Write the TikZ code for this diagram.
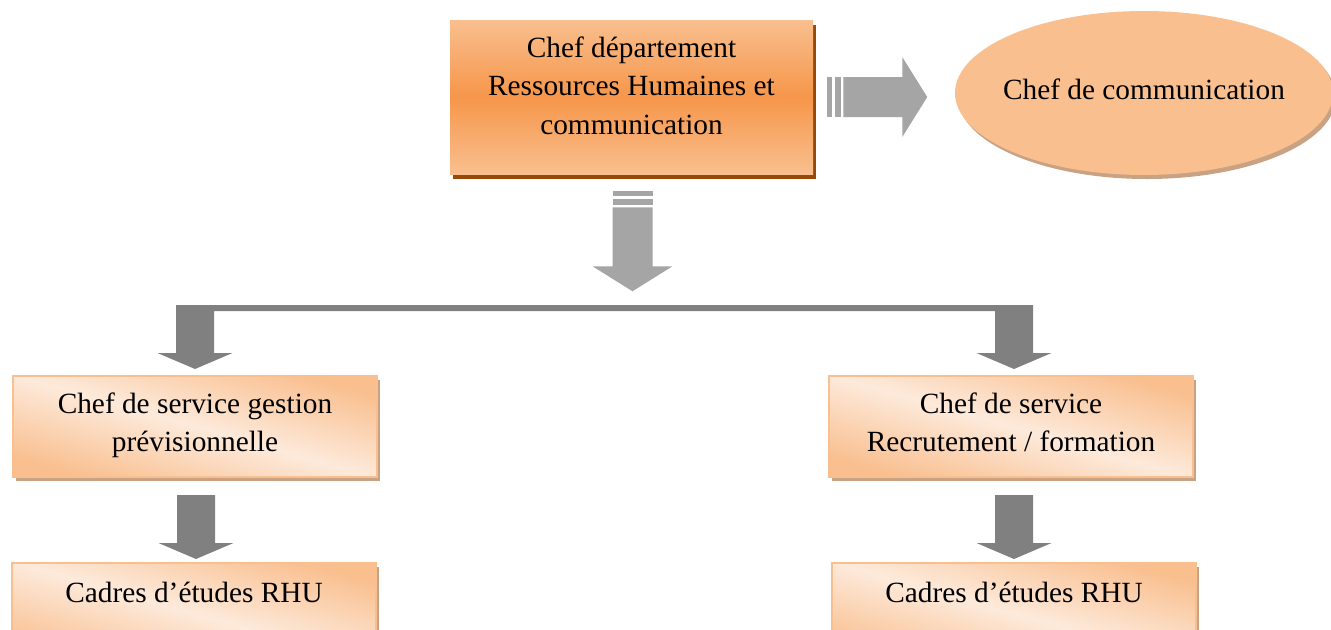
\documentclass[tikz,border=0pt]{standalone}
\usepackage{fontspec}
\setmainfont{Liberation Serif}
\usetikzlibrary{shadows,calc,shapes.geometric}
\definecolor{orclair}{HTML}{F9BF8F}
\definecolor{orfonce}{HTML}{F6964A}
\definecolor{orpale}{HTML}{FDEADB}
\definecolor{brun}{HTML}{984807}
\definecolor{ombre}{HTML}{C8A283}
\definecolor{gris}{HTML}{A5A5A5}
\definecolor{grisf}{HTML}{808080}
\begin{document}
\begin{tikzpicture}[
        x=0.75pt, y=-0.75pt,
        font=\fontsize{22}{29}\selectfont
    ]
    \tikzset{
        chefbox/.style = {rectangle, inner sep=0pt, align=flush center,
            minimum width=272.25pt, minimum height=115.5pt,
            text width=272.25pt, text height=27.75pt, text depth=87.75pt,
            top color=orclair, bottom color=orclair, middle color=orfonce,
            drop shadow={shadow xshift=2.25pt, shadow yshift=-3.75pt, fill=brun, opacity=1}},
        servbox/.style = {rectangle, inner sep=0pt, align=flush center,
            draw=orclair, line width=1.5pt,
            minimum width=273pt, minimum height=75.75pt,
            text width=273pt, text height=27.75pt, text depth=48pt,
            shading=axis, top color=orclair, bottom color=orclair, middle color=orpale,
            shading angle=-16,
            drop shadow={shadow xshift=2.5pt, shadow yshift=-3pt, fill=ombre, opacity=1}},
        cadrebox/.style = {servbox, text height=29.25pt, text depth=46.5pt},
        commnode/.style = {ellipse, inner sep=0pt, fill=orclair,
            minimum width=283.5pt, minimum height=123pt,
            text height=14.5pt, text depth=5.5pt,
            drop shadow={shadow xshift=2.25pt, shadow yshift=-3pt, fill=ombre, opacity=1}},
        grisarrow/.style = {fill=gris, draw=none},
        fleche/.style = {fill=grisf, draw=none},
        stripearrow/.pic = {
            \fill[grisarrow] (0,-20) rectangle (5,20);
            \fill[grisarrow] (8,-20) rectangle (14,20);
            \fill[grisarrow] (16,-20) -- (75,-20) -- (75,-40) -- (100,0)
                -- (75,40) -- (75,20) -- (16,20) -- cycle;
        },
        dnarrow/.pic = {
            \fill[fleche] (-19,0) -- (19,0) -- (19,48) -- (37.5,48) -- (0,64)
                -- (-37.5,48) -- (-19,48) -- cycle;
        },
    }
    \useasboundingbox (0,0) rectangle (1331,629);
    \clip (0,0) rectangle (1331,629);
    % nodes
    \node[chefbox] at (631.5,97) (chef) {Chef département\\Ressources Humaines et\\communication};
    \node[commnode] at (1144,93) (comm) {\makebox[0pt]{Chef de communication}};
    \node[servbox] at (195,426.5) (gp) {Chef de service gestion\\prévisionnelle};
    \node[servbox] at (1011,426.5) (rf) {Chef de service\\Recrutement / formation};
    \node[cadrebox] at (194,613.5) (cg) {Cadres d’études RHU};
    \node[cadrebox] at (1014,613.5) (cr) {Cadres d’études RHU};
    %
    \pic at ($(chef.east)+(14,0)$) {stripearrow};
    \pic[rotate=-90] at ($(chef.south)+(1,17)$) {stripearrow};
    %
    \coordinate (bl) at ($(gp.north)+(0,-70)$);
    \coordinate (br) at ($(rf.north)+(3,-70)$);
    \fill[fleche] ($(bl)+(-19,0)$) -- ($(br)+(19,0)$) -- ($(br)+(19,48)$)
        -- ($(br)+(37.5,48)$) -- ($(br)+(0,64)$) -- ($(br)+(-37.5,48)$)
        -- ($(br)+(-19,48)$) -- ($(br)+(-19,6)$) -- ($(bl)+(19,6)$)
        -- ($(bl)+(19,48)$) -- ($(bl)+(37.5,48)$) -- ($(bl)+(0,64)$)
        -- ($(bl)+(-37.5,48)$) -- ($(bl)+(-19,48)$) -- cycle;
    %
    \pic at ($(gp.south)+(1,17)$) {dnarrow};
    \pic at ($(rf.south)+(3,17)$) {dnarrow};
\end{tikzpicture}
\end{document}
